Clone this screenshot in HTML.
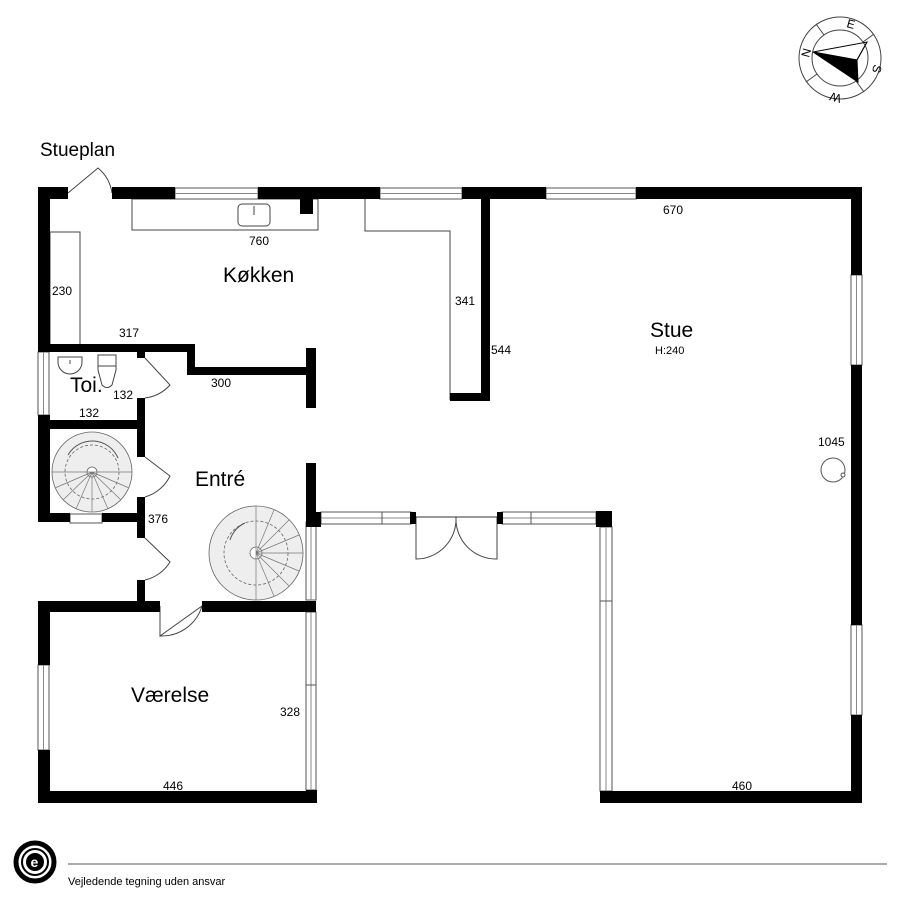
<!DOCTYPE html>
<html><head><meta charset="utf-8"><style>
body{margin:0;background:#fff}
svg{display:block}
text{font-family:"Liberation Sans",Arial,sans-serif;fill:#000}
</style></head><body>
<svg width="900" height="900" viewBox="0 0 900 900" xmlns="http://www.w3.org/2000/svg">
<!-- compass -->
<g stroke="#444" fill="none" stroke-width="1">
<circle cx="840" cy="58" r="41"/><circle cx="840" cy="58" r="28"/>
<line x1="816" y1="24" x2="824" y2="35"/><line x1="874" y1="34" x2="863" y2="42"/>
<line x1="864" y1="92" x2="856" y2="81"/><line x1="806" y1="82" x2="817" y2="74"/>
<polygon points="813,52 867,42 857,60" stroke="#000"/>
<polygon points="813,52 857,60 858,82" fill="#000" stroke="#000"/>
<line x1="857" y1="60" x2="867" y2="42" stroke="#000"/>
</g>
<text x="0" y="0" font-size="12" transform="translate(809,58) rotate(-75)">N</text>
<text x="0" y="0" font-size="12" transform="translate(846,27) rotate(15)">E</text>
<text x="0" y="0" font-size="12" transform="translate(874,64) rotate(105)">S</text>
<text x="0" y="0" font-size="12" transform="translate(842,95) rotate(195)">W</text>

<text x="40" y="156" font-size="19">Stueplan</text>

<g fill="none" stroke="#444" stroke-width="1">
<path d="M68,193 L98,168 A40,40 0 0 1 112,193"/>
<rect x="132" y="199" width="186" height="31"/>
<rect x="238" y="204" width="32" height="22" rx="4"/>
<line x1="254" y1="206" x2="254" y2="215"/>
<rect x="50" y="232" width="30" height="113"/>
<path d="M365,199 V231 H450 V400"/>
<path d="M58,357 H82 V362 A12,12 0 0 1 58,362 Z"/>
<line x1="70" y1="360" x2="70" y2="364"/>
<path d="M98,355 H116 V370 L112,385 Q107,390 102,385 L98,370 Z"/>
<line x1="98" y1="366" x2="116" y2="366"/>
<path d="M145,358 L170,385 A40,40 0 0 1 145,398"/>
<path d="M145,457 L170,476 A40,40 0 0 1 145,497"/>
<path d="M145,538 L170,562 A40,40 0 0 1 145,580"/>
<path d="M160,606 V636 L202,606 A42,42 0 0 1 160,636"/>
<path d="M416,517 V559 A40,40 0 0 0 456,517"/>
<path d="M497,517 V559 A40,40 0 0 1 456,517"/>
<line x1="416" y1="517" x2="497" y2="517" stroke="#333"/>
</g>

<g fill="#fff" stroke="#555" stroke-width="1">
<rect x="175" y="188" width="83" height="11"/><line x1="175" y1="193.5" x2="258" y2="193.5" stroke="#888"/>
<rect x="380" y="188" width="82" height="11"/><line x1="380" y1="193.5" x2="462" y2="193.5" stroke="#888"/>
<rect x="546" y="188" width="90" height="11"/><line x1="546" y1="193.5" x2="636" y2="193.5" stroke="#888"/>
<rect x="851" y="275" width="11" height="90"/><line x1="856.5" y1="275" x2="856.5" y2="365" stroke="#888"/>
<rect x="851" y="625" width="11" height="90"/><line x1="856.5" y1="625" x2="856.5" y2="715" stroke="#888"/>
<rect x="38" y="352" width="11" height="63"/><line x1="43.5" y1="352" x2="43.5" y2="415" stroke="#888"/>
<rect x="70" y="514" width="32" height="9"/>
<rect x="38" y="665" width="11" height="85"/><line x1="43.5" y1="665" x2="43.5" y2="750" stroke="#888"/>
<rect x="306" y="522" width="10" height="78"/><line x1="311" y1="522" x2="311" y2="600" stroke="#888"/>
<rect x="306" y="612" width="10" height="178"/><line x1="311" y1="612" x2="311" y2="790" stroke="#888"/><line x1="306" y1="685" x2="316" y2="685"/>
<rect x="321" y="512" width="90" height="12"/><line x1="321" y1="518" x2="411" y2="518" stroke="#888"/><line x1="382" y1="512" x2="382" y2="524"/>
<rect x="502" y="512" width="94" height="12"/><line x1="502" y1="518" x2="596" y2="518" stroke="#888"/><line x1="531" y1="512" x2="531" y2="524"/>
<rect x="600" y="527" width="12" height="264"/><line x1="606" y1="527" x2="606" y2="791" stroke="#888"/><line x1="600" y1="601" x2="612" y2="601"/>
</g>

<g fill="#000">
<rect x="38" y="187" width="30" height="12"/>
<rect x="112" y="187" width="63" height="12"/>
<rect x="258" y="187" width="122" height="12"/>
<rect x="462" y="187" width="84" height="12"/>
<rect x="636" y="187" width="226" height="12"/>
<rect x="300" y="199" width="13" height="15"/>
<rect x="38" y="187" width="12" height="165"/>
<rect x="38" y="415" width="12" height="107"/>
<rect x="851" y="187" width="11" height="88"/>
<rect x="851" y="365" width="11" height="260"/>
<rect x="851" y="715" width="11" height="88"/>
<rect x="481" y="199" width="9" height="202"/>
<rect x="450" y="393" width="40" height="8"/>
<rect x="38" y="344" width="157" height="8"/>
<rect x="187" y="344" width="8" height="31"/>
<rect x="187" y="367" width="126" height="8"/>
<rect x="306" y="348" width="10" height="60"/>
<rect x="137" y="348" width="8" height="10"/>
<rect x="137" y="398" width="8" height="59"/>
<rect x="137" y="497" width="8" height="41"/>
<rect x="137" y="580" width="8" height="32"/>
<rect x="38" y="420" width="107" height="9"/>
<rect x="38" y="513" width="32" height="9"/>
<rect x="102" y="513" width="43" height="9"/>
<rect x="306" y="463" width="10" height="59"/>
<rect x="306" y="512" width="15" height="15"/>
<rect x="410" y="512" width="6" height="12"/>
<rect x="497" y="512" width="6" height="12"/>
<rect x="596" y="511" width="16" height="16"/>
<rect x="38" y="601" width="122" height="11"/>
<rect x="202" y="601" width="114" height="11"/>
<rect x="38" y="601" width="12" height="64"/>
<rect x="38" y="750" width="12" height="53"/>
<rect x="38" y="791" width="279" height="12"/>
<rect x="306" y="790" width="11" height="13"/>
<rect x="600" y="791" width="262" height="12"/>
</g>

<g stroke="#666" stroke-width="0.8" fill="#eee">
<circle cx="92" cy="472" r="40"/>
<circle cx="92" cy="472" r="27" fill="none" stroke-dasharray="3,2"/>
<circle cx="92" cy="472" r="5" fill="#fff"/>
<circle cx="256" cy="553" r="47"/>
<circle cx="256" cy="553" r="32" fill="none" stroke-dasharray="3,2"/>
<circle cx="256" cy="553" r="6" fill="#fff"/>
</g>
<g stroke="#777" stroke-width="0.7">
<path d="M92,472 L52,472 M92,472 L55,488 M92,472 L63,500 M92,472 L76,509 M92,472 L92,512 M92,472 L108,509 M92,472 L121,500 M92,472 L129,488 M92,472 L132,472" />
<path d="M256,553 V506 M256,553 L274,510 M256,553 L289,520 M256,553 L299,535 M256,553 L303,553 M256,553 L299,571 M256,553 L289,586 M256,553 L274,596 M256,553 L256,600" />
</g>
<path d="M230,540 A28,28 0 0 1 245,523" fill="none" stroke="#555"/>
<path d="M68,455 A28,28 0 0 1 118,458" fill="none" stroke="#555"/>

<g font-size="12">
<text x="249" y="245">760</text>
<text x="52" y="295">230</text>
<text x="119" y="337">317</text>
<text x="455" y="305">341</text>
<text x="491" y="354">544</text>
<text x="211" y="387">300</text>
<text x="113" y="399">132</text>
<text x="79" y="417">132</text>
<text x="148" y="523">376</text>
<text x="663" y="214">670</text>
<text x="818" y="446">1045</text>
<text x="280" y="716">328</text>
<text x="163" y="790">446</text>
<text x="732" y="790">460</text>
<text x="655" y="354" font-size="11">H:240</text>
</g>
<circle cx="833" cy="470" r="12" fill="#fff" stroke="#555"/>
<circle cx="843" cy="475" r="2" fill="#fff" stroke="#555"/>
<g font-size="21">
<text x="223" y="282">Køkken</text>
<text x="650" y="337">Stue</text>
<text x="70" y="392">Toi.</text>
<text x="195" y="486">Entré</text>
<text x="131" y="702">Værelse</text>
</g>

<g transform="translate(35,862)">
<circle r="19" fill="none" stroke="#000" stroke-width="5"/>
<circle r="13" fill="none" stroke="#000" stroke-width="2"/>
<circle r="9" fill="#000"/>
<text x="-4.5" y="5" font-size="14" style="fill:#fff;font-weight:bold">e</text>
</g>
<line x1="68" y1="864" x2="887" y2="864" stroke="#555"/>
<text x="68" y="885" font-size="11">Vejledende tegning uden ansvar</text>
</svg>
</body></html>
